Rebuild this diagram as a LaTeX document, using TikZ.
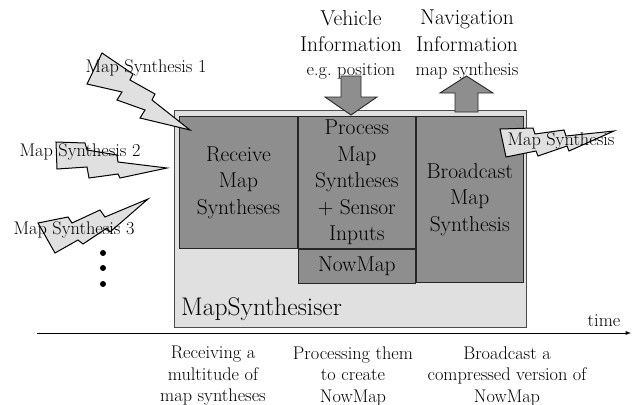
\documentclass[tikz,border=0pt]{standalone}
\usepackage{tikz}
\usetikzlibrary{arrows,positioning}
\definecolor{stagegray}{RGB}{142,142,142}
\definecolor{panelgray}{RGB}{224,224,224}

\begin{document}
\begin{tikzpicture}[
    x=1pt, y=-1pt,
    stage/.style={rectangle, draw=black!85, fill=stagegray, line width=0.9pt, inner sep=0pt, align=center, font=\fontsize{21.5}{26.6}\selectfont},
    panel/.style={rectangle, draw=black!70, fill=panelgray, line width=1pt, inner sep=0pt},
    bolt/.style={draw=black, fill=panelgray, line width=1pt, line join=miter},
    blockarrow/.style={draw=black!85, fill=stagegray, line width=0.9pt},
    head/.style={align=center, inner sep=0pt, font=\fontsize{21.5}{26.7}\selectfont},
    note/.style={align=center, inner sep=0pt, font=\fontsize{18.3}{21.5}\selectfont},
    dot/.style={circle, fill=black, inner sep=0pt, minimum size=6pt},
    arrow/.style={->, line width=0.9pt, >=latex}
]
    \useasboundingbox (0,0) rectangle (633,405);

    % MapSynthesiser
    \node[panel, minimum width=352pt, minimum height=217pt, anchor=north west] (synth) at (174,110) {};
    \node[anchor=base west, inner sep=0pt, font=\fontsize{25.5}{30}\selectfont] (synthname) at (181,315) {MapSynthesiser};

    % Stages
    \node[stage, minimum width=118pt, minimum height=132pt, anchor=north west] (receive) at (179,116) {Receive\\Map\\Syntheses};
    \node[stage, minimum width=117pt, minimum height=132pt, anchor=north west] (process) at (receive.north east) {Process\\Map\\Syntheses\\+ Sensor\\Inputs};
    \node[stage, minimum width=117pt, minimum height=34pt, anchor=north west] (nowmap) at (process.south west) {NowMap};
    \node[stage, minimum width=107pt, minimum height=166pt, anchor=north west] (broadcast) at (process.north east) {Broadcast\\Map\\Synthesis};

    % Vehicle and navigation information
    \draw[blockarrow] (341,76) -- (361,76) -- (361,97) -- (377,97) -- (351,115) -- (325,97) -- (341,97) -- cycle;
    \draw[blockarrow] (455,112) -- (455,93) -- (440,93) -- (466.5,76) -- (493,93) -- (478,93) -- (478,112) -- cycle;
    \node[head] (vehicle) at (351,31) {Vehicle\\Information};
    \node[note, anchor=base] (vehiclesub) at (351,75) {e.g.\ position};
    \node[head] (navigation) at (467,31) {Navigation\\Information};
    \node[note, anchor=base] (navigationsub) at (467,75) {map synthesis};

    % Incoming map syntheses
    \draw[bolt] (102,53) -- (133,74) -- (130,80) -- (155,94) -- (152,100) -- (190,130)
        -- (140,118) -- (145,110) -- (117,100) -- (122,92) -- (87,84) -- cycle;
    \draw[bolt] (56,142) -- (85,143) -- (87,150) -- (117,155) -- (118,162) -- (167,168)
        -- (120,178) -- (118,174) -- (89,178) -- (87,167) -- (57,169) -- cycle;
    \draw[bolt] (38,223) -- (68,217) -- (72,223) -- (100,210) -- (105,217) -- (148,199)
        -- (110,232) -- (107,228) -- (83,244) -- (78,240) -- (55,253) -- cycle;
    \node[note] (in1) at (146,68) {Map Synthesis 1};
    \node[note] (in2) at (80,152) {Map Synthesis 2};
    \node[note] (in3) at (74,230) {Map Synthesis 3};
    \foreach \y [count=\i] in {253,268,284}
        \node[dot] (more\i) at (103,\y) {};

    % Outgoing map synthesis
    \draw[bolt] (500,129) -- (533,128) -- (535,134) -- (564,130) -- (566,136) -- (614,131)
        -- (569,151) -- (567,146) -- (538,156) -- (536,151) -- (506,157) -- cycle;
    \node[note] (out) at (561,141) {Map Synthesis};

    % Time line
    \coordinate (t0) at (37,333);
    \coordinate (t1) at (631,333);
    \draw[arrow] (t0) -- (t1);
    \node[note, anchor=base] (time) at (604,326) {time};
    \node[note] (phase1) at (213,376) {Receiving a\\multitude of\\map syntheses};
    \node[note] (phase2) at (353,376) {Processing them\\to create\\NowMap};
    \node[note] (phase3) at (507,376) {Broadcast a\\compressed version of\\NowMap};

\end{tikzpicture}
\end{document}
